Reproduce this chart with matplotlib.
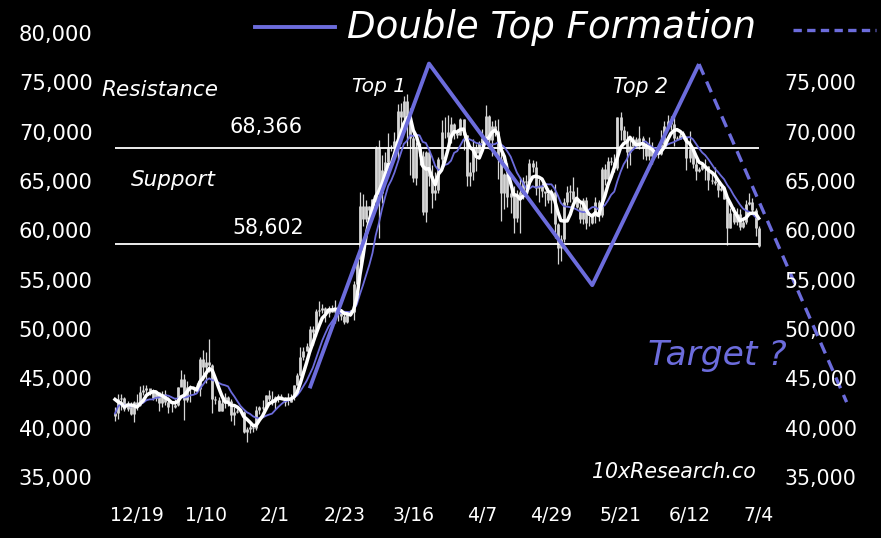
import numpy as np
import pandas as pd
import matplotlib
matplotlib.use('Agg')
import matplotlib.pyplot as plt
import matplotlib.dates as mdates
from matplotlib.lines import Line2D

FONT = 'DejaVu Sans'
BLUE = '#6c6cdc'
BAR = '#d6d6d6'

# ── Data: daily BTC bars 12 Dec 2023 – 4 Jul 2024 (thousand USD) ──
START = '2023-12-12'
END = '2024-07-04'
WARMUP = [44.17, 43.72, 43.79, 41.24]  # closes 8–11 Dec, for the 5-day MA

CLOSE = [
    41.45, 42.89, 43.02, 41.94, 42.28, 41.36, 42.66, 42.26, 43.65, 43.87,
    43.99, 43.74, 43.02, 43.61, 42.52, 43.44, 42.63, 42.10, 42.14, 42.28,
    44.18, 44.95, 42.85, 44.18, 44.16, 43.97, 43.93, 46.97, 46.12, 46.66,
    46.34, 42.89, 42.84, 41.73, 42.51, 43.15, 42.74, 41.26, 41.62, 41.66,
    41.58, 39.57, 39.90, 40.08, 39.96, 41.82, 42.12, 42.03, 43.30, 42.94,
    42.58, 43.08, 43.19, 43.00, 42.58, 42.66, 43.09, 44.33, 45.30, 47.15,
    47.77, 48.29, 49.96, 49.70, 51.80, 51.94, 52.16, 51.66, 52.12, 51.78,
    52.28, 51.84, 51.30, 50.73, 51.57, 51.73, 54.52, 57.09, 62.50, 61.20,
    62.44, 62.03, 63.17, 68.33, 63.80, 66.11, 66.93, 68.30, 68.50, 69.02,
    72.12, 71.48, 73.08, 71.40, 69.40, 65.32, 68.39, 67.55, 61.91, 67.91,
    65.49, 63.78, 64.06, 67.23, 69.96, 69.99, 69.45, 70.78, 69.89, 69.70,
    71.33, 69.65, 65.47, 65.96, 68.50, 67.84, 68.90, 69.36, 71.62, 69.14,
    70.59, 70.06, 67.20, 63.82, 65.74, 63.43, 63.81, 61.28, 63.51, 63.84,
    64.99, 64.93, 66.84, 66.41, 64.30, 64.48, 64.00, 63.76, 63.12, 63.84,
    60.64, 58.25, 59.12, 62.89, 63.89, 64.03, 63.16, 62.33, 61.19, 63.05,
    60.79, 60.79, 61.45, 62.90, 61.55, 66.27, 65.23, 67.05, 66.94, 66.28,
    71.45, 70.14, 69.12, 67.93, 68.53, 69.27, 68.51, 69.39, 68.30, 67.58,
    68.36, 67.49, 67.71, 67.76, 68.80, 70.57, 71.08, 70.76, 69.34, 69.31,
    69.65, 69.51, 67.32, 68.24, 66.75, 66.01, 66.19, 66.64, 66.49, 65.14,
    64.96, 64.83, 64.10, 64.25, 63.18, 60.28, 61.80, 60.86, 61.67, 60.32,
    60.89, 62.68, 62.85, 62.03, 60.20, 58.40,
]
HIGH = [
    42.10, 43.41, 43.38, 43.09, 42.70, 42.59, 42.73, 43.45, 44.20, 44.29,
    44.37, 43.81, 43.94, 43.76, 43.60, 43.68, 43.80, 43.11, 42.61, 42.90,
    44.18, 45.90, 45.50, 44.73, 44.34, 44.18, 44.49, 47.20, 47.89, 47.65,
    48.97, 46.50, 43.25, 43.07, 43.32, 43.55, 43.19, 42.93, 42.13, 41.86,
    41.85, 41.68, 40.13, 40.50, 40.28, 42.20, 42.20, 42.80, 43.31, 43.84,
    43.72, 43.24, 43.47, 43.38, 43.12, 43.49, 43.39, 44.37, 45.59, 48.20,
    48.14, 48.55, 50.28, 50.33, 52.04, 52.82, 52.57, 52.19, 52.35, 52.48,
    52.98, 52.37, 52.00, 51.53, 51.69, 51.95, 54.91, 57.49, 63.91, 63.68,
    63.11, 62.43, 63.23, 68.54, 69.17, 67.64, 67.98, 69.91, 68.67, 70.01,
    72.80, 72.91, 73.65, 73.78, 72.36, 70.04, 68.91, 68.89, 68.08, 68.03,
    68.13, 66.65, 65.94, 67.39, 71.15, 71.53, 71.67, 71.48, 70.88, 70.25,
    71.37, 71.32, 69.67, 66.90, 69.25, 68.72, 69.10, 70.29, 72.72, 71.73,
    71.06, 71.23, 71.26, 67.93, 65.82, 66.87, 64.33, 64.45, 64.08, 65.45,
    65.40, 65.65, 67.21, 67.16, 67.05, 65.25, 64.78, 63.94, 64.32, 64.18,
    64.72, 60.78, 59.58, 63.32, 64.49, 64.60, 65.45, 64.37, 62.96, 63.24,
    63.42, 61.44, 61.80, 63.42, 63.07, 66.44, 66.70, 67.40, 67.44, 67.69,
    71.50, 71.95, 70.62, 70.04, 69.20, 69.55, 69.51, 70.56, 69.55, 68.87,
    69.50, 69.00, 67.84, 68.40, 70.20, 71.06, 71.74, 71.61, 71.93, 69.52,
    69.85, 70.12, 69.54, 70.08, 68.39, 67.29, 66.41, 66.98, 67.19, 66.48,
    65.72, 66.47, 65.00, 64.50, 64.51, 63.35, 62.28, 62.39, 62.26, 62.16,
    61.22, 63.04, 63.79, 63.25, 62.27, 60.40,
]
LOW = [
    40.68, 40.89, 41.77, 41.67, 41.69, 41.26, 40.55, 41.83, 42.20, 43.35,
    43.43, 43.30, 42.77, 42.74, 41.67, 42.13, 42.33, 41.45, 41.56, 41.97,
    42.21, 44.20, 40.75, 42.63, 42.63, 43.40, 43.60, 43.20, 44.85, 44.57,
    45.65, 41.50, 42.44, 41.72, 41.75, 42.04, 42.20, 40.68, 40.28, 41.45,
    41.45, 39.50, 38.56, 39.48, 39.54, 39.82, 41.39, 41.82, 41.80, 42.69,
    42.32, 41.88, 42.58, 42.89, 42.22, 42.26, 42.57, 42.79, 44.34, 45.24,
    46.88, 47.73, 47.71, 48.35, 49.27, 51.33, 51.59, 50.69, 51.18, 51.70,
    50.62, 50.82, 50.95, 50.55, 50.59, 51.28, 50.90, 54.50, 56.74, 60.44,
    60.80, 61.63, 61.32, 62.90, 59.22, 62.79, 65.58, 66.16, 68.03, 68.23,
    67.19, 68.85, 71.33, 68.56, 65.63, 64.87, 64.60, 66.59, 61.56, 60.81,
    64.53, 62.26, 63.06, 63.82, 66.60, 69.33, 68.38, 68.90, 69.22, 69.37,
    69.64, 68.11, 64.54, 64.49, 65.06, 66.01, 67.41, 68.84, 69.07, 68.22,
    67.52, 69.56, 65.25, 60.92, 62.21, 62.33, 61.80, 59.77, 60.85, 59.69,
    63.17, 64.24, 64.60, 65.89, 63.60, 62.84, 63.36, 62.47, 62.80, 61.80,
    59.19, 56.55, 56.94, 58.85, 62.60, 62.90, 62.88, 62.30, 60.73, 60.69,
    60.17, 60.49, 60.63, 60.76, 60.97, 61.33, 64.65, 65.14, 66.64, 65.92,
    66.10, 69.19, 68.93, 66.36, 66.66, 68.53, 68.46, 68.24, 67.28, 67.14,
    67.15, 66.72, 67.42, 67.33, 67.62, 68.55, 70.39, 70.20, 68.60, 69.20,
    69.21, 69.26, 66.11, 66.94, 66.30, 65.08, 65.90, 66.08, 65.15, 64.11,
    64.69, 64.57, 63.37, 63.99, 63.17, 58.50, 60.24, 60.63, 60.55, 60.01,
    60.28, 60.62, 62.54, 61.84, 59.45, 58.30,
]

RESISTANCE = 68366
SUPPORT = 58602

# double top pattern (date, price)
PATTERN_DATES = ['2024-02-12', '2024-03-21', '2024-05-12', '2024-06-15']
PATTERN_VALUES = [44000, 76900, 54450, 76850]
TARGET_DATES = ['2024-06-15', '2024-08-01']
TARGET_VALUES = [76850, 42600]

TICK_DATES = ['2023-12-19', '2024-01-10', '2024-02-01', '2024-02-23',
              '2024-03-16', '2024-04-07', '2024-04-29', '2024-05-21',
              '2024-06-12', '2024-07-04']
TICK_LABELS = ['12/19', '1/10', '2/1', '2/23', '3/16', '4/7', '4/29',
               '5/21', '6/12', '7/4']
Y_LEFT = [35000, 40000, 45000, 50000, 55000, 60000, 65000, 70000, 75000, 80000]
Y_RIGHT = [35000, 40000, 45000, 50000, 55000, 60000, 65000, 70000, 75000]

# ── Derived series ────────────────────────────────────────────────
dates = pd.date_range(START, END, freq='D')
close = np.array(CLOSE) * 1000
high = np.array(HIGH) * 1000
low = np.array(LOW) * 1000
opn = np.concatenate([[WARMUP[-1] * 1000], close[:-1]])
ma_fast = pd.Series(np.concatenate([np.array(WARMUP) * 1000, close])).rolling(5).mean().values[len(WARMUP):]
ma_slow = pd.Series(close).rolling(10, min_periods=1).mean().values

W, H = 881, 538
fig = plt.figure(figsize=(W / 100, H / 100), dpi=100, facecolor='black')
ax = fig.add_axes([112 / W, 1 - 487 / H, (775 - 112) / W, (487 - 18.2) / H])
ax.set_facecolor('black')
for s in ax.spines.values():
    s.set_visible(False)

x = mdates.date2num(dates)
ax.vlines(x, low, high, color=BAR, lw=0.9, zorder=2)
ax.vlines(x, np.minimum(opn, close), np.maximum(opn, close), color=BAR, lw=2.0, zorder=2)

ax.hlines([RESISTANCE, SUPPORT], x[0], x[-1], color='white', lw=1.3, zorder=3)
ax.plot(x, ma_slow, color=BLUE, lw=1.3, zorder=4)
ax.plot(x, ma_fast, color='white', lw=2.5, zorder=5)

ax.plot(mdates.date2num(pd.to_datetime(PATTERN_DATES)), PATTERN_VALUES,
        color=BLUE, lw=2.8, zorder=6, solid_capstyle='butt')
ax.plot(mdates.date2num(pd.to_datetime(TARGET_DATES)), TARGET_VALUES,
        color=BLUE, lw=2.4, ls=(0, (3.5, 2.2)), zorder=6, clip_on=False)

d0 = mdates.date2num(pd.Timestamp('2023-12-19'))
ax.set_xlim(d0 - 7.96, d0 + 203.2)
ax.set_ylim(34000, 81500)

ax.set_xticks(mdates.date2num(pd.to_datetime(TICK_DATES)))
ax.set_xticklabels(TICK_LABELS)
ax.set_yticks(Y_LEFT)
ax.set_yticklabels([f'{v:,}' for v in Y_LEFT])
ax.tick_params(axis='both', length=0, colors='white', labelsize=15.2)
ax.tick_params(axis='y', pad=14)
ax.tick_params(axis='x', pad=14, labelsize=13.5)
for lab in ax.get_xticklabels() + ax.get_yticklabels():
    lab.set_fontfamily(FONT)

ax2 = ax.twinx()
ax2.set_ylim(ax.get_ylim())
for s in ax2.spines.values():
    s.set_visible(False)
ax2.set_yticks(Y_RIGHT)
ax2.set_yticklabels([f'{v:,}' for v in Y_RIGHT])
ax2.tick_params(axis='y', length=0, colors='white', labelsize=14.8, pad=7)
for lab in ax2.get_yticklabels():
    lab.set_fontfamily(FONT)


def px_text(px, py, s, size, color='white', ha='left', italic=True):
    fig.text(px / W, 1 - py / H, s, fontsize=size, color=color, ha=ha, va='center',
             family=FONT, style='italic' if italic else 'normal')


px_text(347, 27, 'Double Top Formation', 26.7)
px_text(101, 90, 'Resistance', 15.5)
px_text(131, 180, 'Support', 15.5)
px_text(229, 127, '68,366', 15, italic=False)
px_text(232, 228, '58,602', 14.8, italic=False)
px_text(352, 87, 'Top 1', 14.5)
px_text(613, 87, 'Top 2', 14.8)
px_text(648, 355, 'Target ?', 24.8, color=BLUE)
px_text(592, 472, '10xResearch.co', 14.8)

fig.add_artist(Line2D([255 / W, 335 / W], [1 - 27 / H] * 2, color=BLUE, lw=2.8,
                      transform=fig.transFigure))
fig.add_artist(Line2D([793 / W, 876 / W], [1 - 30 / H] * 2, color=BLUE, lw=2.4,
                      ls=(0, (2.5, 1.6)), transform=fig.transFigure))

fig.savefig('out.png', dpi=100, facecolor='black')
